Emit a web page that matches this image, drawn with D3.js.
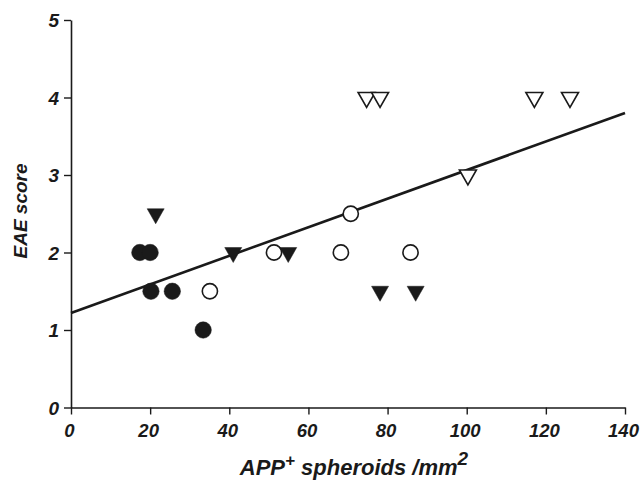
<!DOCTYPE html>
<html>
<head>
<meta charset="utf-8">
<script src="https://cdn.jsdelivr.net/npm/d3@7"></script>
<style>
  html, body { margin: 0; padding: 0; background: #fff; }
  svg text { font-family: "Liberation Sans", Arial, sans-serif; font-weight: bold; font-style: italic; fill: #1a1a1a; }
</style>
</head>
<body>
<svg id="chart" width="640" height="480"></svg>
<script>
// APP+ spheroid density vs EAE score, four groups
const filledCircleX = [17.4, 20.0, 20.2, 25.6, 33.4];
const filledCircleY = [2, 2, 1.5, 1.5, 1];

const openCircleX = [35.1, 51.3, 68.2, 70.7, 85.8];
const openCircleY = [1.5, 2, 2, 2.5, 2];

const filledTriX = [21.4, 41.0, 54.9, 78.1, 87.1];
const filledTriY = [2.5, 2, 2, 1.5, 1.5];

const openTriX = [74.7, 78.1, 100.3, 117.1, 126.1];
const openTriY = [4, 4, 3, 4, 4];

// linear fit endpoints
const fitX = [0, 140];
const fitY = [1.22, 3.80];

const xTicks = [0, 20, 40, 60, 80, 100, 120, 140];
const yTicks = [0, 1, 2, 3, 4, 5];

const svg = d3.select("#chart");
const x = d3.scaleLinear().domain([0, 140]).range([71, 625]);
const y = d3.scaleLinear().domain([0, 5]).range([407.5, 20]);

const ink = "#1a1a1a";

// axes
const xAxis = svg.append("g")
  .attr("transform", `translate(0,${y(0)})`)
  .call(d3.axisBottom(x).tickValues(xTicks).tickFormat(d3.format("d"))
    .tickSize(7).tickSizeOuter(0).tickPadding(8));
const yAxis = svg.append("g")
  .attr("transform", `translate(${x(0)},0)`)
  .call(d3.axisLeft(y).tickValues(yTicks).tickFormat(d3.format("d"))
    .tickSize(7).tickSizeOuter(0).tickPadding(5));

[xAxis, yAxis].forEach(g => {
  g.select(".domain").attr("stroke", ink).attr("stroke-width", 1.6);
  g.selectAll(".tick line").attr("stroke", ink).attr("stroke-width", 1.4);
  g.selectAll(".tick text").attr("fill", ink);
});
xAxis.selectAll(".tick text").attr("dy", "0.8em").attr("dx", -2).style("font-size", "18.5px");
yAxis.selectAll(".tick text").attr("dy", "0.36em").style("font-size", "19px");

// fit line
const line = d3.line().x(d => x(d[0])).y(d => y(d[1]));
svg.append("path")
  .datum(d3.zip(fitX, fitY))
  .attr("d", line)
  .attr("fill", "none")
  .attr("stroke", ink)
  .attr("stroke-width", 2.6);

// markers
const tri = "M-8.5,-5L8.5,-5L0,10Z";

function circles(xs, ys, filled) {
  svg.append("g").selectAll("circle")
    .data(d3.zip(xs, ys)).join("circle")
    .attr("cx", d => x(d[0])).attr("cy", d => y(d[1]))
    .attr("r", filled ? 8.2 : 7.6)
    .attr("fill", filled ? ink : "#fff")
    .attr("stroke", ink)
    .attr("stroke-width", filled ? 0.5 : 1.6);
}
function triangles(xs, ys, filled) {
  svg.append("g").selectAll("path")
    .data(d3.zip(xs, ys)).join("path")
    .attr("transform", d => `translate(${x(d[0])},${y(d[1])})`)
    .attr("d", tri)
    .attr("fill", filled ? ink : "#fff")
    .attr("stroke", ink)
    .attr("stroke-width", filled ? 0.5 : 1.6)
    .attr("stroke-linejoin", "miter");
}
circles(filledCircleX, filledCircleY, true);
circles(openCircleX, openCircleY, false);
triangles(filledTriX, filledTriY, true);
triangles(openTriX, openTriY, false);

// axis titles
const xt = svg.append("text")
  .attr("x", 354).attr("y", 475)
  .attr("text-anchor", "middle")
  .style("font-size", "22px");
xt.append("tspan").text("APP");
xt.append("tspan").attr("dy", -9).style("font-size", "17px").text("+");
xt.append("tspan").attr("dy", 9).text(" spheroids /mm");
xt.append("tspan").attr("dy", -10).style("font-size", "19px").text("2");

svg.append("text")
  .attr("transform", "translate(27,211) rotate(-90)")
  .attr("text-anchor", "middle")
  .style("font-size", "19px")
  .text("EAE score");
</script>
</body>
</html>
